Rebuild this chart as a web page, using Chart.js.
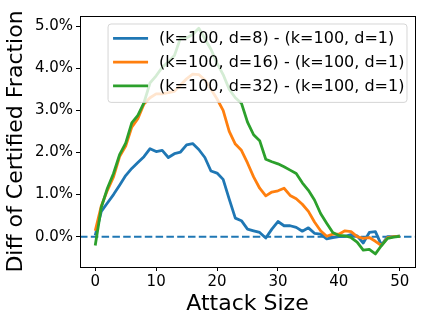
<!DOCTYPE html>
<html>
<head>
<meta charset="utf-8">
<script src="https://cdn.jsdelivr.net/npm/chart.js@4/dist/chart.umd.min.js"></script>
<style>
  html, body { margin: 0; padding: 0; background: #fff; }
  #wrap { width: 423px; height: 323px; }
</style>
</head>
<body>
<div id="wrap"><canvas id="myChart" width="423" height="323"></canvas></div>
<script>
const attackSize = [0, 1, 2, 3, 4, 5, 6, 7, 8, 9, 10, 11, 12, 13, 14, 15, 16, 17, 18, 19, 20,
    21, 22, 23, 24, 25, 26, 27, 28, 29, 30, 31, 32, 33, 34, 35, 36, 37, 38, 39, 40,
    41, 42, 43, 44, 45, 46, 47, 48, 49, 50];

// differences in certified fraction, in percent
const diffD8 = [0.03, 0.60, 0.80, 1.00, 1.22, 1.45, 1.62, 1.76, 1.90, 2.09,
    2.02, 2.05, 1.88, 1.97, 2.01, 2.18, 2.21, 2.07, 1.88, 1.56,
    1.51, 1.36, 0.89, 0.44, 0.38, 0.18, 0.14, 0.10, -0.03, 0.18,
    0.36, 0.26, 0.26, 0.22, 0.13, 0.21, 0.08, 0.06, -0.05, -0.02,
    0.00, 0.01, 0.05, 0.02, -0.15, 0.10, 0.12, -0.20, 0.00, 0.00, 0.01];

const diffD16 = [0.14, 0.73, 1.10, 1.42, 1.90, 2.15, 2.60, 2.80, 3.15, 3.30,
    3.39, 3.39, 3.42, 3.45, 3.60, 3.75, 3.86, 3.85, 3.72, 3.50,
    3.27, 3.00, 2.50, 2.20, 2.05, 1.75, 1.42, 1.15, 0.97, 1.06,
    1.09, 1.15, 0.98, 0.90, 0.77, 0.60, 0.35, 0.14, 0.01, 0.06,
    0.06, 0.14, 0.12, 0.00, -0.04, -0.02, -0.11, -0.21, -0.02, 0.00, 0.01];

const diffD32 = [-0.21, 0.70, 1.15, 1.50, 1.95, 2.22, 2.70, 2.88, 3.18, 3.65,
    3.82, 4.02, 4.15, 4.30, 4.72, 4.72, 4.80, 4.95, 4.70, 4.45,
    4.12, 3.85, 3.50, 3.30, 3.17, 2.72, 2.42, 2.28, 1.84, 1.78,
    1.73, 1.66, 1.58, 1.50, 1.28, 1.10, 0.87, 0.55, 0.32, 0.10,
    0.03, 0.02, -0.02, -0.13, -0.32, -0.30, -0.41, -0.21, -0.04, -0.01, 0.01];

const seriesLabels = [
    '(k=100, d=8) - (k=100, d=1)',
    '(k=100, d=16) - (k=100, d=1)',
    '(k=100, d=32) - (k=100, d=1)',
];

const xTicks = [0, 10, 20, 30, 40, 50];
const yTicks = [0, 1, 2, 3, 4, 5];
const baseline = 0;

const FONT = 'DejaVu Sans';
const LINE_W = 2.8;

// box around the plot area (matplotlib spines)
const frame = {
    id: 'frame',
    afterDraw(chart) {
        const { ctx, chartArea: a } = chart;
        ctx.save();
        ctx.strokeStyle = '#000';
        ctx.lineWidth = 1;
        ctx.strokeRect(Math.round(a.left) + 0.5, Math.round(a.top) + 0.5,
            Math.round(a.right - a.left), Math.round(a.bottom - a.top));
        ctx.restore();
    }
};

// dashed zero line
const zeroLine = {
    id: 'zeroLine',
    beforeDatasetsDraw(chart) {
        const { ctx, chartArea: a, scales } = chart;
        const y = scales.y.getPixelForValue(baseline);
        ctx.save();
        ctx.strokeStyle = '#1f77b4';
        ctx.lineWidth = 2;
        ctx.setLineDash([7.5, 3.3]);
        ctx.beginPath();
        ctx.moveTo(a.left, y);
        ctx.lineTo(a.right, y);
        ctx.stroke();
        ctx.restore();
    }
};

// matplotlib-like legend in the upper right of the axes
const boxLegend = {
    id: 'boxLegend',
    afterDatasetsDraw(chart) {
        const { ctx, chartArea: a } = chart;
        const sets = chart.data.datasets;
        const fs = 16;
        ctx.save();
        ctx.font = fs + 'px "' + FONT + '"';
        let maxW = 0;
        sets.forEach(d => { maxW = Math.max(maxW, ctx.measureText(d.label).width); });
        const pad = 6.4, handle = 32, gap = 12.8, row = 23.8;
        const w = pad + handle + gap + maxW + pad - 4;
        const h = pad * 2 + row * sets.length - (row - fs) + 2;
        const right = a.right - 8, top = a.top + 8;
        const left = right - w;
        ctx.beginPath();
        ctx.roundRect(left, top, w, h, 3);
        ctx.fillStyle = 'rgba(255,255,255,0.8)';
        ctx.fill();
        ctx.strokeStyle = 'rgba(204,204,204,0.8)';
        ctx.lineWidth = 1;
        ctx.stroke();
        sets.forEach((d, i) => {
            const y = top + 14.3 + i * row;
            ctx.strokeStyle = d.borderColor;
            ctx.lineWidth = d.borderWidth;
            ctx.beginPath();
            ctx.moveTo(left + 5, y);
            ctx.lineTo(left + 5 + handle + 3, y);
            ctx.stroke();
            ctx.fillStyle = '#000';
            ctx.textBaseline = 'middle';
            ctx.fillText(d.label, left + 5 + handle + 3 + 11, y + 1);
        });
        ctx.restore();
    }
};

const data = {
    labels: attackSize,
    datasets: [{
        label: seriesLabels[0],
        data: diffD8,
        borderColor: '#1f77b4',
        borderWidth: LINE_W,
        order: 2,
    }, {
        label: seriesLabels[1],
        data: diffD16,
        borderColor: '#ff7f0e',
        borderWidth: LINE_W,
        order: 1,
    }, {
        label: seriesLabels[2],
        data: diffD32,
        borderColor: '#2ca02c',
        borderWidth: LINE_W,
        order: 0,
    }]
};

const config = {
    type: 'line',
    data: data,
    options: {
        responsive: false,
        animation: false,
        devicePixelRatio: 1,
        layout: { padding: { top: 16, right: 8, left: 0, bottom: 0 } },
        elements: {
            point: { radius: 0 },
            line: { tension: 0, fill: false, borderJoinStyle: 'round', borderCapStyle: 'butt' }
        },
        plugins: {
            legend: { display: false },
            tooltip: { enabled: false }
        },
        scales: {
            x: {
                type: 'linear',
                min: -2.5,
                max: 52.5,
                afterBuildTicks: axis => { axis.ticks = xTicks.map(v => ({ value: v })); },
                afterFit: axis => { axis.height = 56; },
                grid: { drawOnChartArea: false, drawTicks: true, tickLength: 4, color: '#000' },
                border: { display: true, color: '#000', width: 1 },
                ticks: {
                    color: '#000',
                    padding: 2,
                    maxRotation: 0,
                    font: { family: FONT, size: 15 },
                    callback: v => String(v)
                },
                title: {
                    display: true,
                    text: 'Attack Size',
                    color: '#000',
                    font: { family: FONT, size: 22 },
                    padding: { top: 0, bottom: 6 }
                }
            },
            y: {
                min: -0.72,
                max: 5.24,
                afterBuildTicks: axis => { axis.ticks = yTicks.map(v => ({ value: v })); },
                afterFit: axis => { axis.width = 80; },
                grid: { drawOnChartArea: false, drawTicks: true, tickLength: 4, color: '#000' },
                border: { display: true, color: '#000', width: 1 },
                ticks: {
                    color: '#000',
                    padding: 3,
                    font: { family: FONT, size: 15 },
                    callback: v => v.toFixed(1) + '%'
                },
                title: {
                    display: true,
                    text: 'Diff of Certified Fraction',
                    color: '#000',
                    font: { family: FONT, size: 22 },
                    padding: { top: 3, bottom: 0 }
                }
            }
        }
    },
    plugins: [zeroLine, boxLegend, frame]
};

const myChart = new Chart(
    document.getElementById('myChart'),
    config
);
</script>
</body>
</html>
